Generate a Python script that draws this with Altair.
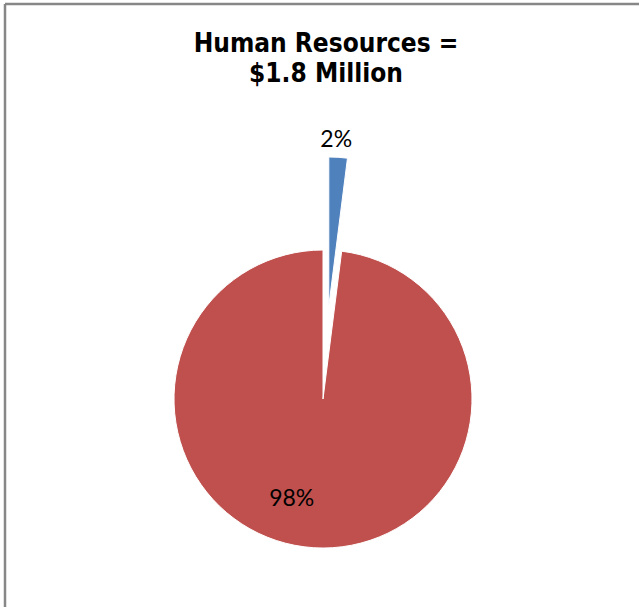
import altair as alt
import pandas as pd

# ---- data ----
categories = ["Segment A", "Segment B"]
values = [2, 98]
pct_labels = ["2%", "98%"]
colors = ["#4F81BD", "#C0504D"]
title_lines = ["Human Resources =", "$1.8 Million"]

ends = pd.Series(values).cumsum()
df = pd.DataFrame({
    "cat": categories,
    "value": values,
    "label": pct_labels,
    "start": ends - pd.Series(values),
    "end": ends,
})
df["mid"] = (df["start"] + df["end"]) / 2

W, H = 639, 607
CX, CY, R = 323, 399, 149
EX, EY = 5.8, -93  # explosion of the small slice

theta_scale = alt.Scale(domain=[0, sum(values)])
color_scale = alt.Scale(domain=categories, range=colors)

base = alt.Chart(df)

big = base.transform_filter(alt.datum.cat == categories[1]).mark_arc(
    radius=R, stroke="white", strokeWidth=1
).encode(
    theta=alt.Theta("start:Q", scale=theta_scale),
    theta2="end:Q",
    color=alt.Color("cat:N", scale=color_scale, legend=None),
    x=alt.value(CX), y=alt.value(CY),
)

small = base.transform_filter(alt.datum.cat == categories[0]).mark_arc(
    radius=R, stroke="white", strokeWidth=1
).encode(
    theta=alt.Theta("start:Q", scale=theta_scale),
    theta2="end:Q",
    color=alt.Color("cat:N", scale=color_scale, legend=None),
    x=alt.value(CX + EX), y=alt.value(CY + EY),
)

small_lbl = base.transform_filter(alt.datum.cat == categories[0]).mark_text(
    radius=166, font="Lato", fontSize=23, color="black", baseline="middle", align="center"
).encode(
    theta=alt.Theta("mid:Q", scale=theta_scale),
    text="label:N",
    x=alt.value(CX + EX - 3), y=alt.value(CY + EY),
)

big_lbl = base.transform_filter(alt.datum.cat == categories[1]).mark_text(
    radius=100, font="Lato", fontSize=23, color="black", baseline="middle", align="center"
).encode(
    theta=alt.Theta("mid:Q", scale=theta_scale),
    text="label:N",
    x=alt.value(CX - 25), y=alt.value(CY),
)

tdf = pd.DataFrame({"t": ["\n".join(title_lines)]})
title = alt.Chart(tdf).mark_text(
    font="DejaVu Sans Condensed", fontWeight="bold", fontSize=26, lineBreak="\n",
    lineHeight=30, baseline="alphabetic", align="center", color="black"
).encode(text="t:N", x=alt.value(326), y=alt.value(52))

one = pd.DataFrame({"a": [0]})
top_rule = alt.Chart(one).mark_rule(color="#878787", strokeWidth=2.5).encode(
    x=alt.value(5), x2=alt.value(W), y=alt.value(4)
)
left_rule = alt.Chart(one).mark_rule(color="#878787", strokeWidth=2.5).encode(
    x=alt.value(5), y=alt.value(4), y2=alt.value(H)
)

chart = alt.layer(big, small, small_lbl, big_lbl, title, top_rule, left_rule).properties(
    width=W, height=H, autosize="none", padding=0, background="white"
).configure_view(stroke=None)

chart.save("out.html", embed_options={"renderer": "svg", "actions": False})
